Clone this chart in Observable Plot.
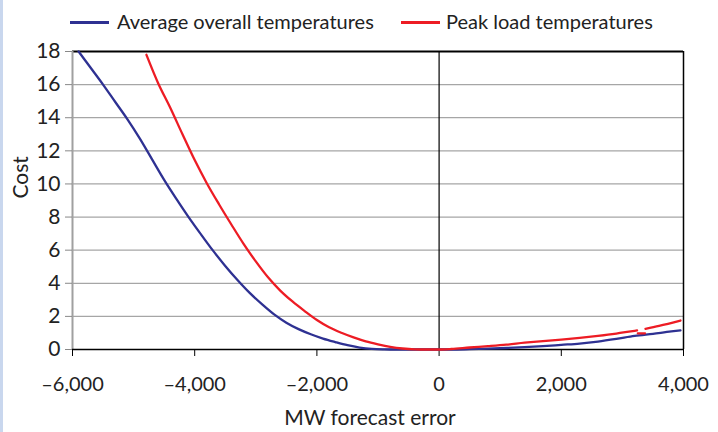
<!DOCTYPE html>
<html>
<head>
<meta charset="utf-8">
<script src="https://cdn.jsdelivr.net/npm/d3@7"></script>
<script src="https://cdn.jsdelivr.net/npm/@observablehq/plot@0.6"></script>
<style>
  html, body { margin: 0; padding: 0; background: #fff; }
  body { width: 718px; height: 432px; overflow: hidden; position: relative; font-family: Lato, "Open Sans", sans-serif; }
  #edge { position: absolute; left: 0; top: 0; width: 3px; height: 432px; background: #c9d7ee; z-index: 2; }
  #legend { position: relative; height: 30px; font-size: 20px; color: #222; }
  .sw { position: absolute; top: 21px; height: 2.5px; width: 39px; }
  .lt { position: absolute; top: 9px; line-height: 24px; white-space: nowrap; }
  #chart svg { overflow: visible; display: block; }
</style>
</head>
<body>
<div id="edge"></div>
<div id="legend"></div>
<div id="chart"></div>
<script>
const seriesNames = ["Average overall temperatures", "Peak load temperatures"];
const seriesColors = ["#2e3192", "#ed1c24"];

const xTicks = [-6000, -4000, -2000, 0, 2000, 4000];
const yTicks = [0, 2, 4, 6, 8, 10, 12, 14, 16, 18];

const blueX = [-5900,-5700,-5500,-5300,-5100,-4900,-4700,-4500,-4300,-4100,-3900,-3700,-3500,-3300,-3100,-2900,-2700,-2500,-2300,-2100,-1900,-1700,-1500,-1300,-1100,-900,-700,-500,-300,-100,0,200,500,800,1100,1400,1700,2000,2300,2600,2900,3200,3500,3800,3950];
const blueY = [18.0,17.0,16.0,14.95,13.9,12.75,11.5,10.25,9.1,8.0,6.97,5.97,5.05,4.2,3.42,2.74,2.12,1.62,1.23,0.92,0.66,0.45,0.26,0.12,0.04,0.01,0,0,0,0,0,0,0.02,0.05,0.09,0.14,0.2,0.28,0.36,0.48,0.64,0.82,0.95,1.09,1.15];

const redX = [-4790,-4600,-4400,-4200,-4000,-3800,-3600,-3400,-3200,-3000,-2800,-2600,-2400,-2200,-2000,-1800,-1600,-1400,-1200,-1000,-800,-600,-400,-200,0,200,500,800,1100,1400,1700,2000,2300,2600,2900,3200,3240,3246,3252,3370,3374,3378,3600,3950];
const redY = [17.8,16.1,14.6,13.0,11.44,10.03,8.76,7.55,6.38,5.32,4.36,3.56,2.9,2.32,1.78,1.34,1.01,0.73,0.49,0.31,0.16,0.06,0.01,0,0,0.03,0.12,0.2,0.29,0.41,0.51,0.6,0.7,0.82,0.96,1.13,1.15,null,0.98,0.98,null,1.25,1.43,1.75];

const xLabel = "MW forecast error";
const yLabel = "Cost";

// legend
const legend = document.getElementById("legend");
const legendPos = [[70, 117], [401, 446]];
seriesNames.forEach((name, i) => {
  const sw = document.createElement("div");
  sw.className = "sw";
  sw.style.left = legendPos[i][0] + "px";
  sw.style.background = seriesColors[i];
  legend.appendChild(sw);
  const t = document.createElement("div");
  t.className = "lt";
  t.style.left = legendPos[i][1] + "px";
  t.textContent = name;
  legend.appendChild(t);
});

const blue = blueX.map((x, i) => ({x, y: blueY[i]}));
const red = redX.map((x, i) => ({x, y: redY[i]}));

const fmt = d => (d < 0 ? "\u2013" : "") + d3.format(",")(Math.abs(d));

const chart = Plot.plot({
  width: 718,
  height: 402,
  marginTop: 21,
  marginBottom: 83,
  marginLeft: 72,
  marginRight: 35,
  style: { fontFamily: "Lato, 'Open Sans', sans-serif", fontSize: "20px", color: "#222", background: "transparent", overflow: "visible" },
  x: { domain: [-6000, 4000] },
  y: { domain: [0, 18] },
  marks: [
    Plot.gridY(yTicks.filter(d => d > 0 && d < 18), { stroke: "#a6a6a6", strokeOpacity: 1, strokeWidth: 1.3 }),
    Plot.ruleX([0], { stroke: "#000", strokeWidth: 1.2 }),
    Plot.ruleX([4000], { stroke: "#000", strokeWidth: 1.5 }),
    Plot.ruleY([18], { stroke: "#000", strokeWidth: 2.2 }),
    Plot.ruleX([-6000], { stroke: "#a0a0a0", strokeWidth: 2 }),
    Plot.ruleY([0], { stroke: "#000", strokeWidth: 1.5 }),
    Plot.axisX({ ticks: xTicks, tickFormat: fmt, tickSize: 7, tickPadding: 20, stroke: "#000", label: null, fontSize: 20 }),
    Plot.axisY({ ticks: yTicks, tickSize: 7, tickPadding: 5, stroke: "#888", label: null, fontSize: 21 }),
    Plot.line(blue, { x: "x", y: "y", stroke: seriesColors[0], strokeWidth: 2.3, curve: "monotone-x" }),
    Plot.line(red, { x: "x", y: "y", stroke: seriesColors[1], strokeWidth: 2.3, curve: "monotone-x" }),
    Plot.text([xLabel], { frameAnchor: "bottom", dy: 69, dx: -8, lineAnchor: "middle", fontSize: 21, fill: "#222" }),
    Plot.text([yLabel], { frameAnchor: "left", dx: -51, dy: -2, rotate: -90, lineAnchor: "middle", fontSize: 21, fill: "#222" })
  ]
});
document.getElementById("chart").appendChild(chart);
</script>
</body>
</html>
